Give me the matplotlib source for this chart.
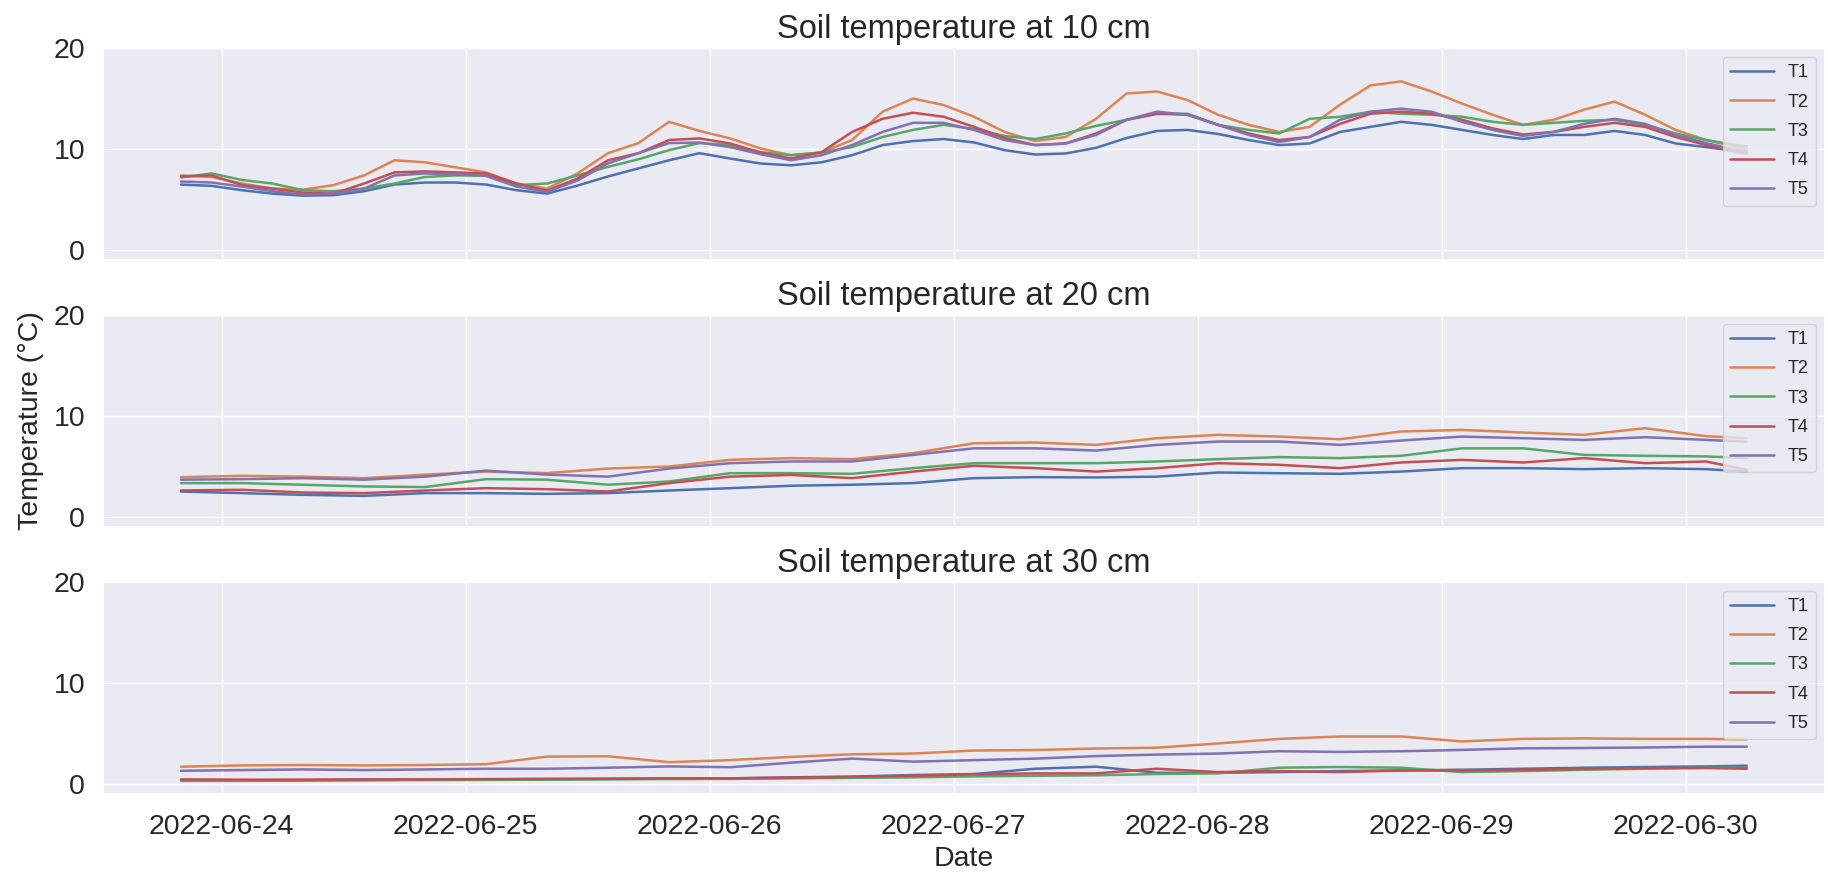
import pandas as pd
import matplotlib
matplotlib.use("Agg")
import matplotlib.pyplot as plt
import matplotlib.dates as mdates
import seaborn as sns

# hours since the first reading (2022-06-23 20:00)
start = pd.Timestamp("2022-06-23 20:00")
hours_10 = list(range(0, 154, 3)) + [154]
hours_deep = list(range(0, 151, 6)) + [154]

sensors = ["T1", "T2", "T3", "T4", "T5"]

# soil temperature at 10 cm, every 3 h
t1_10 = [6.5, 6.37, 5.94, 5.6, 5.4, 5.45, 5.84, 6.5, 6.7, 6.7,
         6.5, 5.94, 5.6, 6.4, 7.3, 8.1, 8.9, 9.6, 9.07, 8.58,
         8.4, 8.7, 9.4, 10.4, 10.8, 11.0, 10.66, 9.9, 9.47, 9.57,
         10.13, 11.1, 11.8, 11.9, 11.5, 10.9, 10.4, 10.56, 11.7, 12.2,
         12.7, 12.4, 11.9, 11.4, 11.0, 11.4, 11.4, 11.8, 11.4, 10.56,
         10.2, 9.8, 9.7]
t2_10 = [7.4, 7.25, 6.6, 6.1, 6.0, 6.44, 7.4, 8.9, 8.7, 8.2,
         7.7, 6.6, 6.1, 7.6, 9.6, 10.6, 12.7, 11.8, 11.06, 10.07,
         9.4, 9.67, 10.9, 13.7, 15.0, 14.36, 13.2, 11.7, 10.8, 11.2,
         13.0, 15.5, 15.7, 14.85, 13.4, 12.4, 11.7, 12.2, 14.4, 16.3,
         16.7, 15.7, 14.5, 13.4, 12.4, 12.9, 13.9, 14.7, 13.4, 11.9,
         10.9, 10.2, 10.07]
t3_10 = [7.2, 7.6, 6.95, 6.6, 5.94, 5.84, 6.1, 6.6, 7.25, 7.4,
         7.4, 6.44, 6.6, 7.4, 8.25, 9.0, 9.9, 10.6, 10.4, 9.7,
         9.4, 9.67, 10.2, 11.2, 11.9, 12.4, 12.0, 11.3, 11.0, 11.55,
         12.3, 12.9, 13.5, 13.5, 12.4, 11.9, 11.55, 13.0, 13.2, 13.7,
         13.5, 13.4, 13.2, 12.7, 12.4, 12.6, 12.8, 12.9, 12.4, 11.55,
         10.9, 10.4, 10.3]
t4_10 = [7.3, 7.4, 6.45, 6.1, 5.7, 5.6, 6.6, 7.7, 7.8, 7.7,
         7.6, 6.6, 5.9, 7.1, 8.9, 9.6, 10.9, 11.06, 10.56, 9.67,
         9.07, 9.7, 11.7, 13.0, 13.6, 13.2, 12.2, 11.1, 10.4, 10.56,
         11.55, 12.9, 13.5, 13.4, 12.4, 11.55, 10.9, 11.2, 12.5, 13.5,
         13.7, 13.5, 12.9, 12.05, 11.45, 11.7, 12.2, 12.6, 12.2, 11.2,
         10.4, 9.7, 9.57]
t5_10 = [6.8, 6.7, 6.3, 5.84, 5.5, 5.6, 6.1, 7.4, 7.6, 7.5,
         7.35, 6.3, 5.78, 6.9, 8.6, 9.6, 10.6, 10.65, 10.2, 9.5,
         8.9, 9.4, 10.4, 11.7, 12.6, 12.6, 11.9, 10.9, 10.4, 10.56,
         11.4, 12.9, 13.7, 13.4, 12.4, 11.4, 10.7, 11.2, 12.9, 13.7,
         14.0, 13.7, 12.7, 11.9, 11.3, 11.7, 12.5, 13.0, 12.5, 11.4,
         10.6, 9.9, 9.8]

# 20 cm, every 6 h
t1_20 = [2.53, 2.37, 2.2, 2.1, 2.37, 2.37, 2.3, 2.37, 2.63, 2.86, 3.1, 3.2, 3.36, 3.85,
         3.95, 3.92, 4.0, 4.41, 4.34, 4.28, 4.5, 4.84, 4.84, 4.74, 4.84, 4.74, 4.5]
t2_20 = [3.95, 4.08, 4.0, 3.85, 4.2, 4.5, 4.35, 4.8, 5.0, 5.66, 5.83, 5.73, 6.32, 7.3,
         7.37, 7.14, 7.8, 8.13, 7.96, 7.7, 8.46, 8.62, 8.36, 8.13, 8.79, 8.0, 7.8]
t3_20 = [3.36, 3.36, 3.2, 3.03, 2.97, 3.75, 3.7, 3.2, 3.52, 4.34, 4.34, 4.28, 4.84, 5.33,
         5.33, 5.33, 5.5, 5.73, 5.93, 5.83, 6.06, 6.8, 6.8, 6.15, 6.06, 6.0, 5.83]
t4_20 = [2.63, 2.7, 2.43, 2.37, 2.63, 2.86, 2.76, 2.53, 3.36, 4.0, 4.17, 3.85, 4.5, 5.07,
         4.84, 4.5, 4.84, 5.33, 5.17, 4.84, 5.4, 5.66, 5.4, 5.83, 5.33, 5.5, 4.67]
t5_20 = [3.7, 3.75, 3.85, 3.7, 4.0, 4.6, 4.2, 4.0, 4.8, 5.33, 5.5, 5.5, 6.15, 6.8,
         6.8, 6.58, 7.14, 7.47, 7.47, 7.14, 7.57, 7.96, 7.8, 7.63, 7.9, 7.63, 7.47]

# 30 cm, every 6 h
t1_30 = [0.35, 0.35, 0.38, 0.4, 0.42, 0.45, 0.48, 0.5, 0.55, 0.55, 0.65, 0.72, 0.88, 0.98,
         1.5, 1.7, 1.1, 1.1, 1.17, 1.27, 1.33, 1.4, 1.5, 1.6, 1.67, 1.73, 1.8]
t2_30 = [1.7, 1.83, 1.87, 1.83, 1.87, 1.95, 2.7, 2.73, 2.15, 2.35, 2.67, 2.93, 3.0, 3.3,
         3.35, 3.5, 3.58, 4.0, 4.45, 4.69, 4.69, 4.2, 4.45, 4.5, 4.45, 4.45, 4.4]
t3_30 = [0.3, 0.3, 0.32, 0.35, 0.38, 0.4, 0.42, 0.45, 0.48, 0.5, 0.55, 0.6, 0.65, 0.75,
         0.8, 0.85, 0.98, 1.04, 1.6, 1.67, 1.6, 1.17, 1.27, 1.4, 1.5, 1.6, 1.6]
t4_30 = [0.45, 0.42, 0.42, 0.45, 0.45, 0.48, 0.5, 0.52, 0.55, 0.55, 0.62, 0.7, 0.8, 0.95,
         1.04, 1.04, 1.5, 1.17, 1.27, 1.17, 1.33, 1.33, 1.4, 1.5, 1.57, 1.57, 1.5]
t5_30 = [1.3, 1.37, 1.43, 1.37, 1.43, 1.5, 1.5, 1.6, 1.73, 1.65, 2.1, 2.5, 2.2, 2.35,
         2.5, 2.75, 2.9, 3.0, 3.23, 3.16, 3.23, 3.36, 3.52, 3.55, 3.6, 3.68, 3.68]


sns.set_theme(style="darkgrid")
plt.rcParams['font.family'] = ['Liberation Sans', 'DejaVu Sans']

dates_10 = start + pd.to_timedelta(hours_10, unit="h")
dates_deep = start + pd.to_timedelta(hours_deep, unit="h")

panels = [
    ("Soil temperature at 10 cm", dates_10, [t1_10, t2_10, t3_10, t4_10, t5_10]),
    ("Soil temperature at 20 cm", dates_deep, [t1_20, t2_20, t3_20, t4_20, t5_20]),
    ("Soil temperature at 30 cm", dates_deep, [t1_30, t2_30, t3_30, t4_30, t5_30]),
]

fig, axes = plt.subplots(3, 1, figsize=(18.28, 8.74), dpi=100, sharex=True)
fig.subplots_adjust(left=0.0562, right=0.9984, top=0.9451, bottom=0.0915, hspace=0.256)

for ax, (title, dates, series) in zip(axes, panels):
    for name, vals in zip(sensors, series):
        ax.plot(dates, vals, label=name, linewidth=1.8)
    ax.set_title(title, fontsize=23.5, pad=7)
    ax.set_ylim(-1, 20)
    ax.set_yticks([0, 10, 20])
    ax.tick_params(axis="y", labelsize=20.5, pad=6.6)
    ax.tick_params(axis="x", labelsize=20.5, pad=8.5)
    ax.legend(loc="upper right", fontsize=13, handlelength=2.4, labelspacing=0.68)

axes[1].set_ylabel("Temperature (°C)", fontsize=20.5, labelpad=7)
axes[2].set_xlabel("Date", fontsize=20.5, labelpad=4)
axes[2].xaxis.set_major_locator(mdates.DayLocator())
axes[2].xaxis.set_major_formatter(mdates.DateFormatter("%Y-%m-%d"))

fig.savefig("out.png", dpi=100)
